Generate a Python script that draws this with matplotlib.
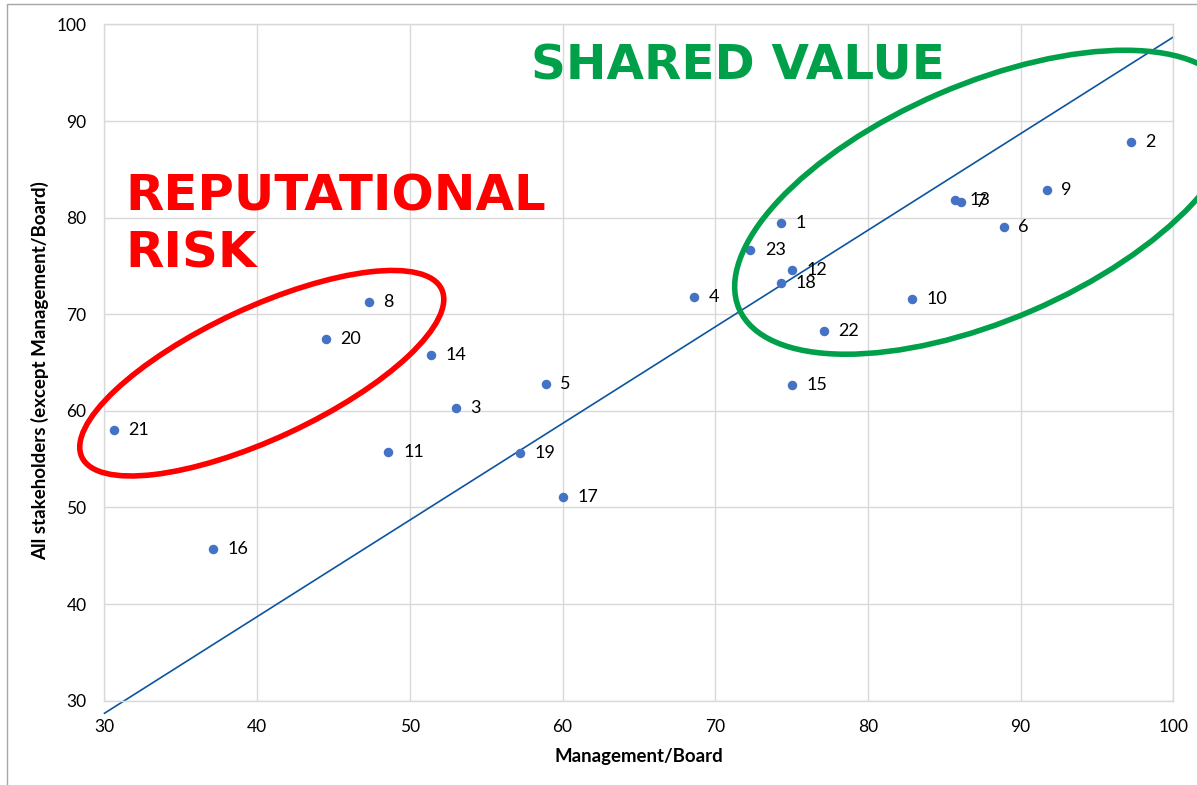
import numpy as np
from matplotlib import pyplot as plt
from matplotlib import transforms
from matplotlib.patches import Ellipse, Rectangle


plt.rcParams['font.family'] = ['Lato', 'DejaVu Sans']

# issue number, score by management/board, score by all other stakeholders
labels = ['1', '2', '3', '4', '5', '6', '7', '8', '9', '10', '11', '12',
          '13', '14', '15', '16', '17', '18', '19', '20', '21', '22', '23']
mgmt = [74.3, 97.2, 53.0, 68.6, 58.9, 88.9, 86.1, 47.3, 91.7, 82.9, 48.6, 75.0,
        85.7, 51.4, 75.0, 37.1, 60.0, 74.3, 57.2, 44.5, 30.6, 77.1, 72.3]
stake = [79.4, 87.8, 60.3, 71.8, 62.8, 79.0, 81.6, 71.3, 82.9, 71.6, 55.7, 74.6,
         81.8, 65.8, 62.7, 45.7, 51.1, 73.2, 55.6, 67.4, 58.0, 68.3, 76.7]

# reference line drawn across the chart
line_x = [30, 100]
line_y = [28.7, 98.7]

ticks = [30, 40, 50, 60, 70, 80, 90, 100]


def plot_matrix(fname='out.png'):

    fig = plt.figure(figsize=(11.97, 7.85), dpi=100)
    ax = fig.add_axes([0.0873, 0.1074, 0.8929, 0.8614])

    grid_c = '#D9D9D9'
    ax.set_xlim(30, 100)
    ax.set_ylim(30, 100)
    ax.set_xticks(ticks)
    ax.set_yticks(ticks)
    ax.grid(True, color=grid_c, lw=1)
    ax.set_axisbelow(True)
    for s in ax.spines.values():
        s.set_color(grid_c)
        s.set_linewidth(1)
    ax.tick_params(axis='both', length=0, labelsize=12.5, colors='black')
    ax.tick_params(axis='x', pad=13)
    ax.tick_params(axis='y', pad=13)

    ax.plot(line_x, line_y, color='#0C54A0', lw=1.2, clip_on=False, zorder=2)
    ax.scatter(mgmt, stake, s=34, color='#4472C4', zorder=3, clip_on=False)
    for lab, x, y in zip(labels, mgmt, stake):
        ax.annotate(lab, (x, y), xytext=(10.5, 0), textcoords='offset points',
                    va='center', ha='left', fontsize=13, color='black')

    # the two hand-drawn ellipses (sized in inches so they keep their shape)
    red = Ellipse((0, 0), 3.97, 1.31, angle=25, fill=False, ec='#FF0000', lw=4,
                  transform=fig.dpi_scale_trans + transforms.ScaledTranslation(40.3, 63.9, ax.transData),
                  clip_on=False, zorder=4)
    green = Ellipse((0, 0), 5.37, 2.36, angle=23.4, fill=False, ec='#00A04A', lw=4,
                    transform=fig.dpi_scale_trans + transforms.ScaledTranslation(87.7, 81.6, ax.transData),
                    clip_on=False, zorder=4)
    ax.add_patch(red)
    ax.add_patch(green)

    ax.text(31.4, 80.7, 'REPUTATIONAL', family='DejaVu Sans', weight='bold',
            fontsize=35.8, color='#FF0000', va='baseline', ha='left')
    ax.text(31.4, 74.8, 'RISK', family='DejaVu Sans', weight='bold',
            fontsize=35.8, color='#FF0000', va='baseline', ha='left')
    ax.text(57.95, 94.3, 'SHARED VALUE', family='DejaVu Sans', weight='bold',
            fontsize=34.8, color='#00A04A', va='baseline', ha='left')

    ax.set_xlabel('Management/Board', fontsize=13.4, weight='bold', va='center')
    ax.set_ylabel('All stakeholders (except Management/Board)', fontsize=13.5,
                  weight='bold', va='center')
    ax.xaxis.set_label_coords(0.5, -0.082)
    ax.yaxis.set_label_coords(-0.060, 0.488)

    # chart-area border
    fig.patches.append(Rectangle((7 / 1197, -0.1), 1.2, 1.1 - 4 / 785, fill=False,
                                 ec='#A6A6A6', lw=1, transform=fig.transFigure))

    fig.savefig(fname, dpi=100)


plot_matrix()
